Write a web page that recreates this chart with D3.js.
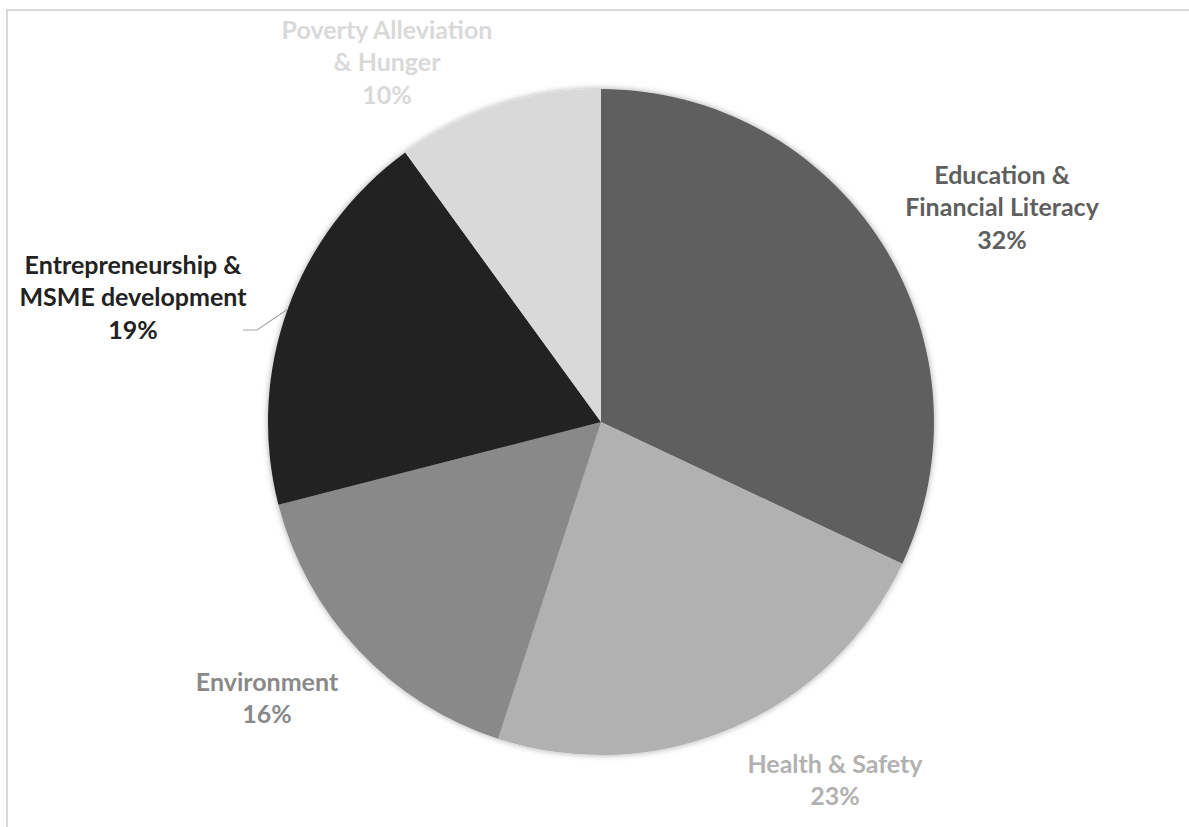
<!DOCTYPE html>
<html>
<head>
<meta charset="utf-8">
<script src="https://cdn.jsdelivr.net/npm/d3@7"></script>
<style>
  html, body { margin: 0; padding: 0; background: #fff; }
</style>
</head>
<body>
<div id="chart"></div>
<script>
// data
const categories = [
    'Education & Financial Literacy',
    'Health & Safety',
    'Environment',
    'Entrepreneurship & MSME development',
    'Poverty Alleviation & Hunger'
];
const shares = [32, 23, 16, 19, 10];
const labelLines = [
    ['Education &', 'Financial Literacy'],
    ['Health & Safety'],
    ['Environment'],
    ['Entrepreneurship &', 'MSME development'],
    ['Poverty Alleviation', '& Hunger']
];
const sliceColors = ['#5f5f5f', '#b1b1b1', '#898989', '#222222', '#d9d9d9'];

// layout (label block centre relative to pie centre, in px)
const labelOffsets = [[401, -209], [234, 364], [-334, 282], [-468, -119], [-214, -354]];

const width = 1189, height = 827;
const cx = 601, cy = 422, radius = 333;
const lineH = 32.5;

const svg = d3.select('#chart')
    .append('svg')
    .attr('width', width)
    .attr('height', height)
    .style('font-family', 'Lato, "Open Sans", sans-serif');

// chart frame
svg.append('rect')
    .attr('x', 7)
    .attr('y', 10)
    .attr('width', width + 20)
    .attr('height', height + 20)
    .attr('fill', 'none')
    .attr('stroke', '#d9d9d9')
    .attr('stroke-width', 2);

const defs = svg.append('defs');
const shadow = defs.append('filter')
    .attr('id', 'soft')
    .attr('x', '-10%').attr('y', '-10%')
    .attr('width', '120%').attr('height', '120%');
shadow.append('feDropShadow')
    .attr('dx', 0).attr('dy', 0)
    .attr('stdDeviation', 3)
    .attr('flood-color', '#000')
    .attr('flood-opacity', 0.35);

const rows = categories.map((c, i) => ({ name: c, value: shares[i], idx: i }));

const pie = d3.pie()
    .value(d => d.value)
    .sort(null);

const arcs = pie(rows);

const arc = d3.arc().innerRadius(0).outerRadius(radius);
const edge = d3.arc().innerRadius(radius).outerRadius(radius);

const g = svg.append('g').attr('transform', `translate(${cx},${cy})`);

g.append('g')
    .attr('filter', 'url(#soft)')
    .selectAll('path')
    .data(arcs)
    .enter()
    .append('path')
    .attr('d', arc)
    .attr('fill', d => sliceColors[d.data.idx]);

// leader line for the Entrepreneurship label
const lead = arcs[3];
const p0 = edge.centroid(lead);
const [lx, ly] = labelOffsets[3];
g.append('polyline')
    .attr('points', [p0, [lx + 124, ly + 27], [lx + 110, ly + 27]].map(p => p.join(',')).join(' '))
    .attr('fill', 'none')
    .attr('stroke', '#a6a6a6')
    .attr('stroke-width', 1.2);

// labels
const labels = g.append('g')
    .selectAll('text')
    .data(arcs)
    .enter()
    .append('text')
    .attr('text-anchor', 'middle')
    .attr('font-weight', 700)
    .attr('font-size', '25px')
    .attr('fill', d => sliceColors[d.data.idx]);

labels.each(function (d) {
    const t = d3.select(this);
    const lines = labelLines[d.data.idx].concat([d.data.value + '%']);
    const [ox, oy] = labelOffsets[d.data.idx];
    const top = oy - (lines.length - 1) * lineH / 2 + 3;
    lines.forEach((s, k) => {
        t.append('tspan')
            .attr('x', ox)
            .attr('y', top + k * lineH)
            .text(s);
    });
});
</script>
</body>
</html>
